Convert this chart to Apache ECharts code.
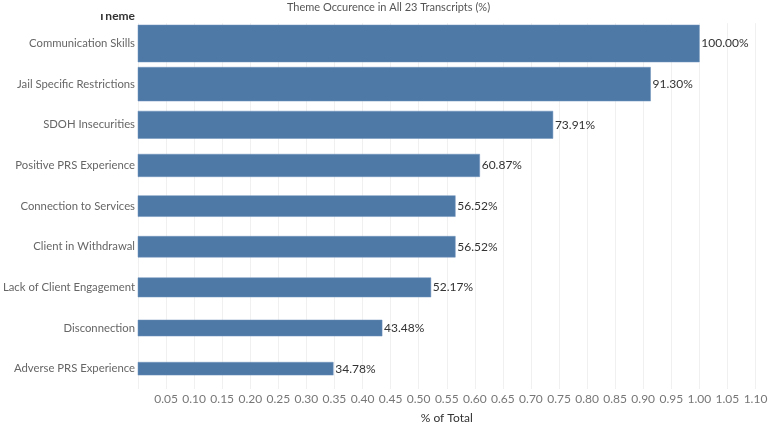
<!DOCTYPE html>
<html><head><meta charset="utf-8">
<script src="https://cdn.jsdelivr.net/npm/echarts@6/dist/echarts.min.js"></script>
<style>html,body{margin:0;padding:0;background:#fff}#c{width:777px;height:423px}</style>
</head><body><div id="c"></div>
<script>
const categories = ["Communication Skills","Jail Specific Restrictions","SDOH Insecurities","Positive PRS Experience","Connection to Services","Client in Withdrawal","Lack of Client Engagement","Disconnection","Adverse PRS Experience"];
const values = [1.0, 0.913, 0.7391, 0.6087, 0.5652, 0.5652, 0.5217, 0.4348, 0.3478];
const titleText = "Theme Occurence in All 23 Transcripts (%)";
const axisName = "% of Total";
const FONT = "Lato";
const chart = echarts.init(document.getElementById('c'));
chart.setOption({
  animation: false,
  textStyle: {fontFamily: FONT},
  title: {text: titleText, left: 'center', top: -3, textStyle: {fontSize: 11, fontWeight: 'normal', color: '#555', fontFamily: FONT}},
  graphic: [
    {type: 'text', right: 642, top: 10, z: 10, style: {text: 'Theme', font: 'bold 12px ' + FONT, fill: '#333'}},
    {type: 'rect', left: 80, top: 0, z: 11, shape: {width: 60, height: 14}, style: {fill: '#fff'}}
  ],
  grid: {left: 138, right: 21.5, top: 23.2, bottom: 34, containLabel: false, outerBoundsMode: 'none'},
  xAxis: {type: 'value', min: 0, max: 1.1, interval: 0.05,
    axisLine: {show: false}, axisTick: {show: false},
    splitLine: {show: true, lineStyle: {color: '#f0f0f0', width: 1}},
    axisLabel: {color: '#777', fontSize: 12, margin: 4, fontFamily: FONT, formatter: v => v === 0 ? '' : v.toFixed(2)},
    name: axisName, nameLocation: 'middle', nameGap: 23,
    nameTextStyle: {color: '#333', fontSize: 12, fontFamily: FONT}},
  yAxis: {type: 'category', data: categories, inverse: true,
    axisLine: {show: false}, axisTick: {show: false}, splitLine: {show: false},
    axisLabel: {color: '#666', fontSize: 11.3, margin: 3, fontFamily: FONT}},
  series: [{type: 'custom', data: values.map((v, i) => [v, categories[i]]),
    encode: {x: 0, y: 1},
    renderItem: function (params, api) {
      const v = api.value(0);
      const idx = params.dataIndex;
      const s = api.coord([0, idx]);
      const e = api.coord([v, idx]);
      const h = v * 37;
      return {type: 'group', children: [
        {type: 'rect', shape: {x: s[0], y: s[1] - h / 2, width: e[0] - s[0], height: h},
          style: {fill: '#4e79a7', stroke: '#6f93bd', lineWidth: 0.5}},
        {type: 'text', x: e[0] + 2, y: e[1],
          style: {text: (v * 100).toFixed(2) + '%', fill: '#333', font: '12px ' + FONT, verticalAlign: 'middle'}}
      ]};
    }}]
});
</script></body></html>
